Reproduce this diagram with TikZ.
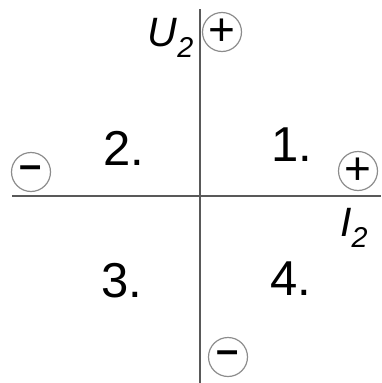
\documentclass[tikz,border=0pt]{standalone}
\usepackage{fontspec}
\setmainfont{Liberation Sans}
\begin{document}
\begin{tikzpicture}[x=1pt,y=-1pt,
    every node/.style={inner sep=0pt,font=\fontsize{49}{54}\selectfont},
    sign/.style={draw=black!45,line width=1.2pt,circle,minimum size=39pt},
    plus/.style={sign,font=\fontsize{46}{46}\selectfont},
    minus/.style={sign,font=\fontsize{40}{40}\selectfont\bfseries},
    axis/.style={draw=black!65,line width=1.8pt},
    lbl/.style={font=\fontsize{41}{48}\selectfont\itshape}]
  \useasboundingbox (0,0) rectangle (381,383);
  % axes
  \coordinate (top) at (200,9);
  \coordinate (bot) at (200,383);
  \coordinate (left) at (12,196);
  \coordinate (right) at (381,196);
  \draw[axis] (top) -- (bot);
  \draw[axis] (left) -- (right);
  % quadrants
  \node (q1) at (292,145) {1.};
  \node (q2) at (124,148) {2.};
  \node (q3) at (122,281) {3.};
  \node (q4) at (291,279) {4.};
  % signs
  \node[plus] (uplus) at (222,32) {+};
  \node[plus] (iplus) at (358,171) {+};
  \node[minus] (iminus) at (31,172) {--};
  \node[minus] (uminus) at (228,357) {--};
  % axis labels
  \node[lbl,anchor=north east] (ulabel) at (194,18) {U\textsubscript{2}};
  \node[lbl,anchor=north west] (ilabel) at (340,208) {I\textsubscript{2}};
\end{tikzpicture}
\end{document}
